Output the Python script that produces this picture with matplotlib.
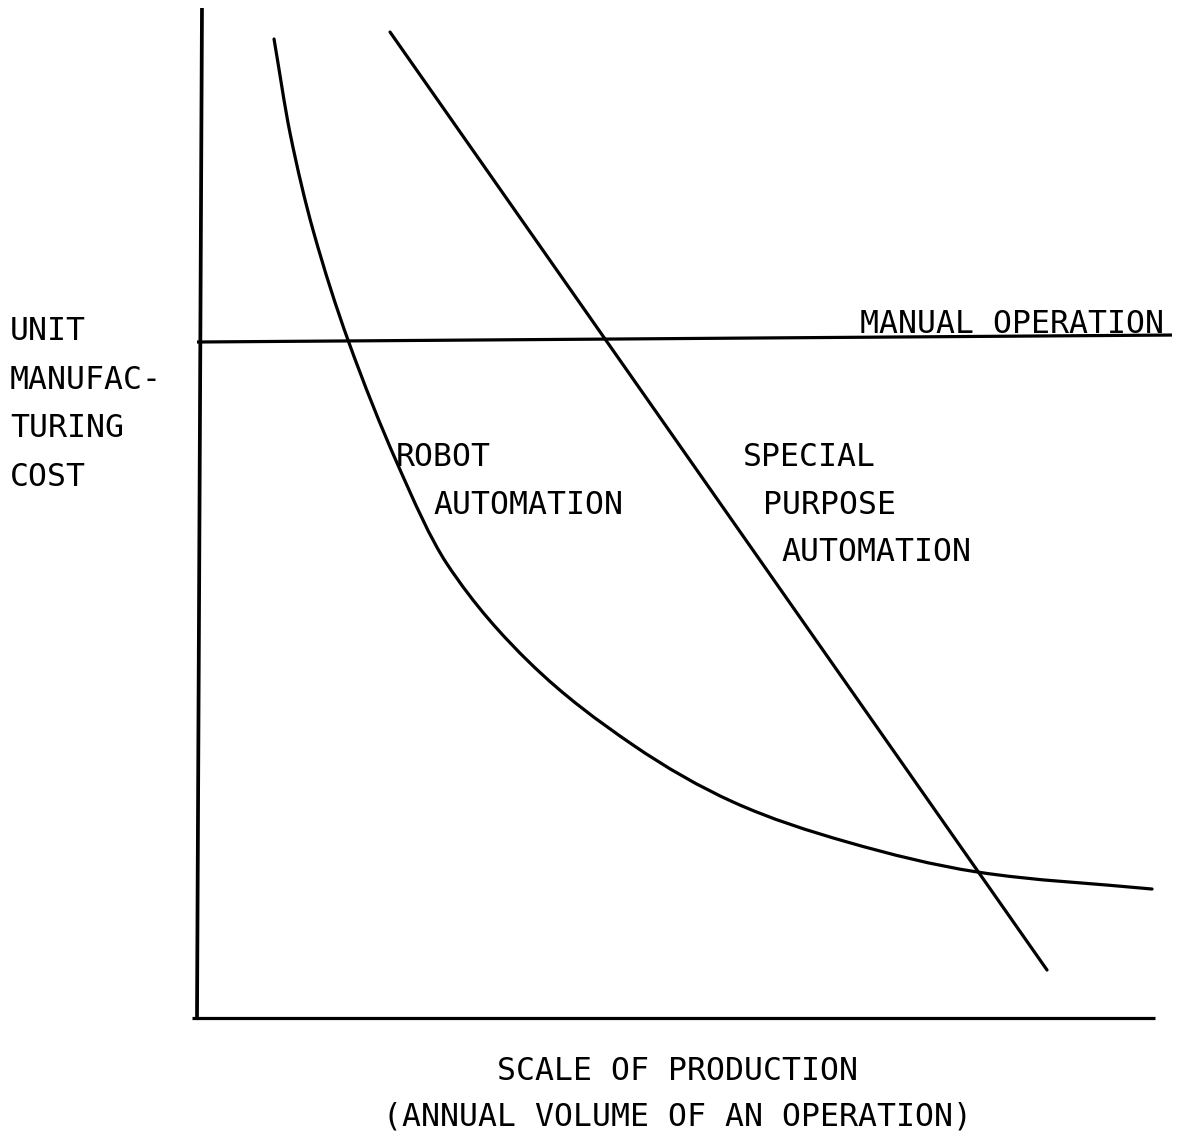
import matplotlib
matplotlib.use("Agg")
import matplotlib.pyplot as plt
from matplotlib.path import Path
from matplotlib.patches import PathPatch

# ---- data (x: scale of production, y: unit manufacturing cost; arbitrary units) ----
robot_x = [8.04, 9.71, 12.11, 15.76, 20.88, 26.10, 34.76, 45.51, 55.95, 67.85,
           81.42, 99.69]
robot_y = [96.93, 87.62, 78.02, 67.13, 54.95, 44.95, 35.15, 27.03, 21.39, 17.43,
           14.46, 12.77]
special_x = [20.15, 88.73]
special_y = [97.62, 4.75]
manual_x = [0.0, 101.77]
manual_y = [66.93, 67.62]
yaxis_x = [0.52, 0.0]
yaxis_y = [100.0, 0.0]
xaxis_x = [-0.52, 100.0]
xaxis_y = [0.0, 0.0]

W, H = 1181, 1134
fig = plt.figure(figsize=(W / 100, H / 100), dpi=100)
ax = fig.add_axes([0, 0, 1, 1])
ax.set_xlim(-197 / 9.58, (W - 197) / 9.58)
ax.set_ylim((1018 - H) / 10.1, 1018 / 10.1)
ax.axis("off")

lw = 2.3
ax.plot(yaxis_x, yaxis_y, color="black", lw=lw + 0.4, solid_capstyle="butt")
ax.plot(xaxis_x, xaxis_y, color="black", lw=lw, solid_capstyle="butt")
ax.plot(manual_x, manual_y, color="black", lw=lw, solid_capstyle="butt")
ax.plot(special_x, special_y, color="black", lw=lw, solid_capstyle="round")


def hermite_path(xs, ys):
    """Smooth Bezier path through the points (y as a function of x)."""
    n = len(xs)
    h = [xs[i + 1] - xs[i] for i in range(n - 1)]
    d = [(ys[i + 1] - ys[i]) / h[i] for i in range(n - 1)]
    m = [d[0]]
    for i in range(1, n - 1):
        m.append((ys[i + 1] - ys[i - 1]) / (xs[i + 1] - xs[i - 1]))
    m.append(d[-1])
    verts = [(xs[0], ys[0])]
    codes = [Path.MOVETO]
    for i in range(n - 1):
        t = h[i] / 3
        verts += [(xs[i] + t, ys[i] + m[i] * t),
                  (xs[i + 1] - t, ys[i + 1] - m[i + 1] * t),
                  (xs[i + 1], ys[i + 1])]
        codes += [Path.CURVE4] * 3
    return Path(verts, codes)


ax.add_patch(PathPatch(hermite_path(robot_x, robot_y), facecolor="none",
                       edgecolor="black", lw=lw, capstyle="round",
                       joinstyle="round"))

font = dict(family="DejaVu Sans Mono", fontsize=22.7, color="black",
            va="baseline", ha="left")


def ptext(px, py, s, **kw):
    d = dict(font)
    d.update(kw)
    fig.text(px / W, 1 - py / H, s, **d)


ptext(10, 340, "UNIT")
ptext(10, 389, "MANUFAC-")
ptext(10, 437, "TURING")
ptext(10, 486, "COST")
ptext(860, 333, "MANUAL OPERATION")
ptext(396, 466, "ROBOT")
ptext(433, 514, "AUTOMATION")
ptext(743, 466, "SPECIAL")
ptext(763, 514, "PURPOSE")
ptext(781, 561, "AUTOMATION")
ptext(677, 1080, "SCALE OF PRODUCTION", ha="center")
ptext(677, 1126, "(ANNUAL VOLUME OF AN OPERATION)", ha="center")

fig.savefig("out.png", dpi=100, facecolor="white")
